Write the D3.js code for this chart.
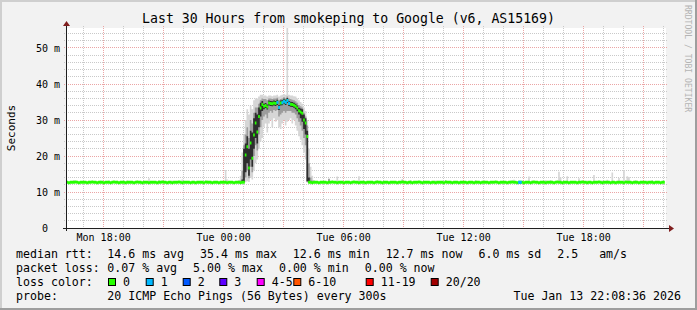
<!DOCTYPE html>
<html>
<head>
<meta charset="utf-8">
<script src="https://cdn.jsdelivr.net/npm/d3@7"></script>
<style>
  body { margin: 0; background: #f2f2f2; }
  svg text { font-family: "DejaVu Sans Mono", monospace; white-space: pre; fill: #000; }
</style>
</head>
<body>
<svg id="chart"></svg>
<script>
// ---- data ----
const titleText = 'Last 30 Hours from smokeping to Google (v6, AS15169)';
const viewStart = Date.UTC(2026, 0, 12, 16, 8, 36);
const viewEnd = Date.UTC(2026, 0, 13, 22, 8, 36);
const firstStep = Date.UTC(2026, 0, 12, 16, 5);   // 5 min rrd steps
const stepMs = 5 * 60 * 1000;

// median rtt (ms), one value per 5 min step, one row per hour
const medianRtt = [
  12.7,12.7,12.6,12.7,12.7,12.7,12.8,12.7,12.6,12.7,12.7,12.7,
  12.7,12.6,12.7,12.7,12.8,12.7,12.7,12.6,12.7,12.7,12.7,12.6,
  12.7,12.7,12.7,12.6,12.7,12.8,12.7,12.7,12.6,12.7,12.7,12.7,
  12.6,12.7,12.7,12.7,12.7,12.6,12.7,12.8,12.7,12.7,12.6,12.7,
  12.7,12.7,12.6,12.7,12.7,12.7,12.7,12.6,12.7,12.7,12.8,12.7,
  12.7,12.6,12.7,12.7,12.6,12.7,12.7,12.7,12.8,12.7,12.6,12.7,
  12.7,12.7,12.7,12.6,12.7,12.7,12.6,12.7,12.7,12.7,12.7,12.6,
  12.8,12.7,12.7,12.7,12.6,12.7,12.7,12.7,12.6,12.7,12.7,12.7,
  12.7,12.6,12.7,12.7,12.7,12.6,12.7,12.7,12.7,12.6,12.7,12.7,
  20.3,22.6,16.7,23.6,19.4,25.8,29.2,26.7,31.0,33.3,34.3,33.8,
  34.0,33.6,34.7,34.6,34.5,34.7,34.6,34.9,33.5,34.7,34.8,35.2,
  34.9,35.4,34.6,34.4,34.3,34.1,33.8,33.3,32.6,32.2,31.9,30.0,
  29.2,25.4,12.7,12.7,12.6,12.7,12.7,12.7,12.6,12.7,12.7,12.7,
  12.7,12.6,12.7,12.7,12.8,12.7,12.7,12.6,12.7,12.7,12.7,12.6,
  12.7,12.7,12.7,12.6,12.7,12.8,12.7,12.7,12.6,12.7,12.7,12.7,
  12.6,12.7,12.7,12.7,12.7,12.6,12.7,12.8,12.7,12.7,12.6,12.7,
  12.7,12.7,12.6,12.7,12.7,12.7,12.7,12.6,12.7,12.7,12.8,12.7,
  12.7,12.6,12.7,12.7,12.6,12.7,12.7,12.7,12.8,12.7,12.6,12.7,
  12.7,12.7,12.7,12.6,12.7,12.7,12.6,12.7,12.7,12.7,12.7,12.6,
  12.8,12.7,12.7,12.7,12.6,12.7,12.7,12.7,12.6,12.7,12.7,12.7,
  12.7,12.6,12.7,12.7,12.7,12.6,12.7,12.7,12.7,12.6,12.7,12.7,
  12.7,12.7,12.6,12.7,12.7,12.7,12.8,12.7,12.6,12.7,12.7,12.7,
  12.7,12.6,12.7,12.7,12.8,12.7,12.7,12.6,12.7,12.7,12.7,12.6,
  12.7,12.7,12.7,12.6,12.7,12.8,12.7,12.7,12.6,12.7,12.7,12.7,
  12.6,12.7,12.7,12.7,12.7,12.6,12.7,12.8,12.7,12.7,12.6,12.7,
  12.7,12.7,12.6,12.7,12.7,12.7,12.7,12.6,12.7,12.7,12.8,12.7,
  12.7,12.6,12.7,12.7,12.6,12.7,12.7,12.7,12.8,12.7,12.6,12.7,
  12.7,12.7,12.7,12.6,12.7,12.7,12.6,12.7,12.7,12.7,12.7,12.6,
  12.8,12.7,12.7,12.7,12.6,12.7,12.7,12.7,12.6,12.7,12.7,12.7,
  12.7,12.6,12.7,12.7,12.7,12.6,12.7,12.7,12.7,12.6,12.7,12.7
];

// lost pings (of 20) per step: [step, lost]
const lostPings = [[127,1],[128,1],[130,1],[131,1],[132,1],[133,1],[134,1],[272,1],[273,1]];

// smoke around the peak, steps 104..149: [outerLo, outerHi, midLo, midHi, coreLo, coreHi]
const peakFirst = 104;
const peakSmoke = [
  [12.5,13.3,12.6,12.9,12.6,12.8],[12.4,14.5,12.5,13.2,12.6,12.8],
  [12.4,21.0,12.5,16.0,12.6,13.5],[12.5,26.0,12.6,23.0,12.8,22.0],
  [12.7,30.0,14.0,26.0,15.5,23.5],[13.0,33.0,16.0,28.0,18.0,25.5],
  [12.8,31.5,13.8,25.0,14.5,22.0],[14.0,34.0,17.0,30.0,19.0,27.0],
  [13.5,33.0,15.5,29.0,17.0,26.5],[16.0,35.5,20.0,32.0,22.0,30.5],
  [18.0,36.0,23.0,33.5,25.0,32.0],[19.0,36.0,21.5,33.5,23.5,31.5],
  [22.0,36.5,26.0,34.5,28.0,33.5],[24.0,37.0,28.0,35.5,31.0,34.8],
  [25.0,37.0,30.0,36.0,32.5,35.3],[28.0,36.8,31.0,35.8,33.0,34.5],
  [29.0,36.8,31.5,35.8,33.3,34.7],[26.5,36.5,30.5,35.5,32.9,34.3],
  [29.0,36.8,32.0,36.0,34.0,35.4],[30.0,36.8,32.5,36.0,33.9,35.3],
  [28.0,36.6,32.0,35.8,33.8,35.2],[30.5,36.8,32.8,36.0,34.0,35.4],
  [29.5,36.8,32.5,36.0,33.9,35.3],[30.0,37.0,32.8,36.2,34.2,35.6],
  [28.0,36.5,31.0,35.5,32.8,34.2],[27.5,36.8,31.5,35.8,34.0,35.4],
  [29.0,37.0,32.0,36.0,34.1,35.5],[30.0,37.2,32.5,36.3,34.5,35.9],
  [28.5,37.0,32.0,36.0,34.2,35.6],[29.5,56.0,32.5,36.5,34.7,36.1],
  [30.0,37.0,32.5,36.0,33.9,35.3],[30.5,36.8,32.5,35.8,33.7,35.1],
  [29.0,36.8,32.0,35.6,33.6,35.0],[30.0,36.6,32.0,35.5,33.4,34.8],
  [28.5,36.5,31.5,35.2,33.0,34.5],[27.0,36.0,30.5,34.8,32.4,34.0],
  [25.5,35.5,29.5,34.2,31.5,33.4],[24.5,35.0,28.5,33.8,30.5,33.2],
  [23.0,34.5,27.0,33.5,29.5,33.0],[21.0,33.5,25.0,32.0,27.5,31.5],
  [19.0,32.5,23.0,31.0,26.0,30.5],[12.6,30.0,12.8,28.5,13.0,27.0],
  [12.5,22.0,12.6,18.0,12.6,14.0],[12.5,17.0,12.6,14.0,12.6,13.0],
  [12.4,14.5,12.5,13.2,12.5,12.8],[12.5,13.3,12.6,12.9,12.6,12.8]
];

// small smoke spikes on the flat part: [step, highest ping, mid band top]
const smokeSpikes = [
  [5,13.3],[14,13.1],[21,13.2],[26,13.2],[31,13.1],[37,13.2],[50,13.8],[56,13.3],
  [64,13.2],[70,13.5],[85,13.2],[96,16.1],[97,13.5],[158,13.8,13.6],[163,14.3],
  [176,14.4],[187,13.2],[202,13.6],[207,13.3],[222,13.2],[228,13.3],[246,13.3],
  [251,13.3],[267,13.2],[269,13.4],[278,14.3],[280,13.2],[288,13.3],[291,13.3],
  [296,15.6],[297,14.0],[301,14.4],[308,13.8],[313,13.2],[317,14.7],[322,13.2],
  [325,13.4],[328,15.4],[332,13.9],[335,16.1],[337,14.4],[338,14.2],[342,13.3],
  [349,13.2],[352,13.3]
];

const lossLabels = ['0', '1', '2', '3', '4-5', '6-10', '11-19', '20/20'];
const lossColors = ['#26ff00', '#00b8ff', '#0059ff', '#5e00ff', '#ff00ff', '#ff5500', '#ff0000', '#a10000'];
const yLabels = [0, 10, 20, 30, 40, 50];

const rowLabels = ['median rtt:', 'packet loss:', 'loss color:', 'probe:'];
const rttStats = ['14.6 ms avg', '35.4 ms max', '12.6 ms min', '12.7 ms now', '6.0 ms sd', '2.5   am/s'];
const lossStats = ['0.07 % avg', '5.00 % max', '0.00 % min', '0.00 % now'];
const probeText = '20 ICMP Echo Pings (56 Bytes) every 300s';
const stampText = 'Tue Jan 13 22:08:36 2026';
const watermark = 'RRDTOOL / TOBI OETIKER';

// ---- layout ----
const W = 697, H = 310;
const plot = { left: 66, right: 666, top: 28, bottom: 228 };
const swatchX = [108, 145.7, 182.7, 219.3, 256.7, 293.3, 365.7, 430.7];

const svg = d3.select('#chart').attr('width', W).attr('height', H);

// frame with rrdtool shading
svg.append('rect').attr('width', W).attr('height', H).attr('fill', '#f2f2f2');
svg.append('path').attr('d', `M0,0H${W}V2H2V${H}H0Z`).attr('fill', '#cfcfcf');
svg.append('path').attr('d', `M${W},${H}H0V${H - 2}H${W - 2}V0H${W}Z`).attr('fill', '#9e9e9e');

const x = d3.scaleUtc().domain([viewStart, viewEnd]).range([plot.left, plot.right]);
const y = d3.scaleLinear().domain([0, (plot.bottom - plot.top) / 3.6]).range([plot.bottom, plot.top]);

svg.append('rect')
    .attr('x', plot.left).attr('y', plot.top)
    .attr('width', plot.right - plot.left).attr('height', plot.bottom - plot.top)
    .attr('fill', '#fff');

// grid (drawn under the data)
const px = v => Math.floor(v) + 0.5;
const grid = svg.append('g').attr('stroke-width', 1).attr('stroke-dasharray', '1,1').attr('fill', 'none');
const yGrid = d3.range(2, y.domain()[1], 2);
yGrid.forEach(v => {
  grid.append('line')
      .attr('x1', plot.left - 2).attr('x2', plot.right + 2)
      .attr('y1', px(y(v))).attr('y2', px(y(v)))
      .attr('stroke', v % 10 === 0 ? '#eba5a5' : '#c9c9c9');
});
x.ticks(d3.utcHour.every(1)).forEach(h => {
  grid.append('line')
      .attr('x1', px(x(h))).attr('x2', px(x(h)))
      .attr('y1', plot.top - 2).attr('y2', plot.bottom + 2)
      .attr('stroke', h.getUTCHours() % 3 === 0 ? '#eba5a5' : '#c9c9c9');
});

// build the step table
const rows = medianRtt.map((m, i) => ({
  t: new Date(firstStep + i * stepMs), med: m, loss: 0,
  oLo: m, oHi: m, mLo: m, mHi: m, cLo: m, cHi: m
}));
smokeSpikes.forEach(([i, hi, mid]) => {
  rows[i].oHi = hi;
  if (mid) rows[i].mHi = mid;
});
peakSmoke.forEach((r, k) => {
  const d = rows[peakFirst + k];
  [d.oLo, d.oHi, d.mLo, d.mHi, d.cLo, d.cHi] = r;
});
lostPings.forEach(([i, n]) => { rows[i].loss = n; });
const last = rows[rows.length - 1];
const band = rows.concat([Object.assign({}, last, { t: new Date(firstStep + rows.length * stepMs) })]);

svg.append('clipPath').attr('id', 'clip').append('rect')
    .attr('x', plot.left).attr('y', plot.top)
    .attr('width', plot.right - plot.left).attr('height', plot.bottom - plot.top);
const chart = svg.append('g').attr('clip-path', 'url(#clip)');

const smoke = (lo, hi) => d3.area()
    .curve(d3.curveStepAfter)
    .x(d => x(d.t))
    .y0(d => y(d[lo]))
    .y1(d => y(d[hi]));

chart.append('path').datum(band).attr('fill', '#d6d6d6').attr('d', smoke('oLo', 'oHi'));
chart.append('path').datum(band).attr('fill', '#9c9c9c').attr('d', smoke('mLo', 'mHi'));
chart.append('path').datum(band).attr('fill', '#2e2e2e').attr('d', smoke('cLo', 'cHi'));

// median line, coloured by loss
const half = 1.5;
const lossIndex = n => n <= 3 ? n : n <= 5 ? 4 : n <= 10 ? 5 : n <= 19 ? 6 : 7;
chart.append('path').datum(band)
    .attr('fill', lossColors[0])
    .attr('d', d3.area().curve(d3.curveStepAfter)
        .x(d => x(d.t))
        .y0(d => y(d.med) + half)
        .y1(d => y(d.med) - half));
chart.selectAll('rect.loss')
    .data(rows.filter(d => d.loss > 0))
    .join('rect')
    .attr('class', 'loss')
    .attr('x', d => x(d.t))
    .attr('width', d => x(new Date(+d.t + stepMs)) - x(d.t) + 0.3)
    .attr('y', d => y(d.med) - half)
    .attr('height', half * 2)
    .attr('fill', d => lossColors[lossIndex(d.loss)]);

// axes lines + arrows
svg.append('line')
    .attr('x1', plot.left - 3).attr('x2', plot.right + 3)
    .attr('y1', plot.bottom + 0.5).attr('y2', plot.bottom + 0.5)
    .attr('stroke', '#1f1f1f');
svg.append('line')
    .attr('x1', plot.left + 0.5).attr('x2', plot.left + 0.5)
    .attr('y1', plot.bottom + 3).attr('y2', plot.top - 3)
    .attr('stroke', '#1f1f1f');
svg.append('path')
    .attr('d', `M${plot.left + 0.5},${plot.top - 7}l3.5,5h-7z`)
    .attr('fill', '#801f1f');
svg.append('path')
    .attr('d', `M${plot.right + 8},${plot.bottom + 0.5}l-5,-3.5v7z`)
    .attr('fill', '#801f1f');

// tick labels
const xAxis = svg.append('g')
    .attr('transform', `translate(0,${plot.bottom})`)
    .call(d3.axisBottom(x)
        .ticks(d3.utcHour.every(6))
        .tickFormat(d3.utcFormat('%a %H:%M'))
        .tickSize(0)
        .tickPadding(5.5));
const yAxis = svg.append('g')
    .attr('transform', `translate(${plot.left},0)`)
    .call(d3.axisLeft(y)
        .tickValues(yLabels)
        .tickFormat(d => d ? d + ' m' : '0  ')
        .tickSize(0)
        .tickPadding(6));
[xAxis, yAxis].forEach(g => {
  g.select('.domain').remove();
  g.attr('font-family', null).attr('font-size', null);
  g.selectAll('text').style('font-size', '10px');
});

// title and vertical labels
svg.append('text')
    .attr('x', W / 2).attr('y', 23.3)
    .attr('text-anchor', 'middle')
    .style('font-size', '13.2px')
    .text(titleText);

svg.append('text')
    .attr('transform', 'translate(15,128) rotate(-90)')
    .attr('text-anchor', 'middle')
    .style('font-size', '11px')
    .text('Seconds');

svg.append('text')
    .attr('transform', 'translate(685,5) rotate(90)')
    .style('font-size', '8.1px')
    .style('fill', '#b4b4b4')
    .text(watermark);

// legend
const legend = svg.append('g').style('font-size', '11.6px');
const lineY = [257.5, 271.5, 285.5, 299.5];
const col2 = 107.3, gap = 16;
rowLabels.forEach((t, i) => {
  legend.append('text').attr('x', 16).attr('y', lineY[i]).text(t);
});
[rttStats, lossStats].forEach((items, r) => {
  let cx = col2;
  items.forEach(t => {
    const el = legend.append('text').attr('x', cx).attr('y', lineY[r]).text(t);
    cx += el.node().getComputedTextLength() + gap;
  });
});
lossLabels.forEach((t, i) => {
  legend.append('rect')
      .attr('x', swatchX[i] + 0.5).attr('y', lineY[2] - 7)
      .attr('width', 7).attr('height', 7)
      .attr('fill', lossColors[i])
      .attr('stroke', '#000');
  legend.append('text').attr('x', swatchX[i] + 15).attr('y', lineY[2]).text(t);
});
legend.append('text').attr('x', col2).attr('y', lineY[3]).text(probeText);
legend.append('text').attr('x', 681).attr('y', lineY[3]).attr('text-anchor', 'end').text(stampText);
</script>
</body>
</html>
